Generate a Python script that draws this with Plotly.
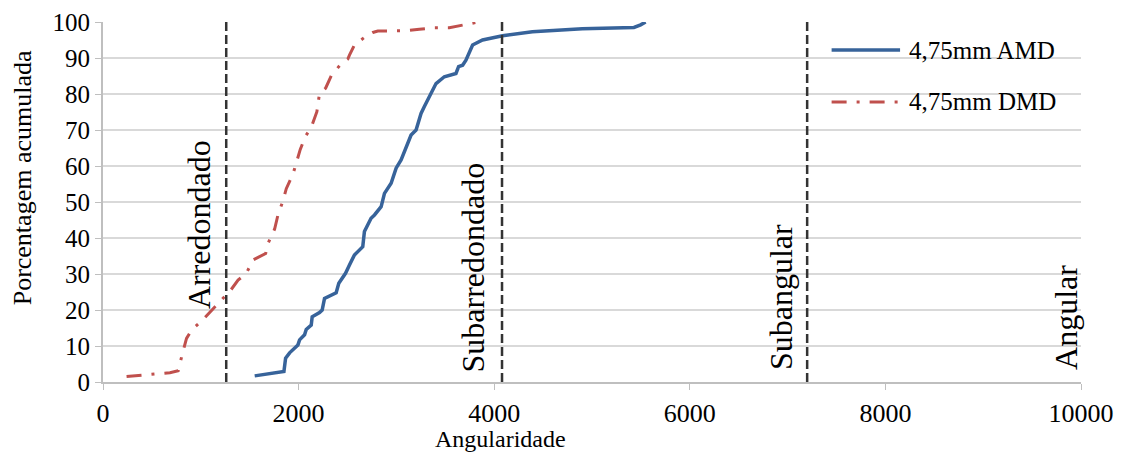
import plotly.graph_objects as go

# Cumulative distribution of gradient angularity, 4,75 mm fraction
amd_angularity = [1551, 1850, 1867, 1908, 1993, 2010, 2061, 2078, 2129, 2139, 2214, 2241,
                  2265, 2384, 2411, 2480, 2520, 2571, 2656, 2673, 2741, 2776, 2844, 2878,
                  2946, 2997, 3048, 3099, 3150, 3201, 3252, 3286, 3337, 3354, 3405, 3490,
                  3609, 3636, 3677, 3711, 3752, 3779, 3881, 4085, 4391, 4901, 5429, 5497, 5548]
amd_percent = [1.7, 2.9, 6.6, 8.1, 10.3, 11.7, 13.1, 14.6, 15.8, 18.1, 19.3, 20.0,
               23.2, 24.8, 27.4, 30.2, 32.5, 35.3, 37.6, 41.8, 45.5, 46.4, 48.7, 52.4,
               55.2, 59.4, 61.7, 65.4, 68.6, 70.0, 74.6, 76.5, 79.3, 80.2, 82.9, 84.8,
               85.7, 87.6, 88.0, 89.4, 91.8, 93.6, 95.0, 96.2, 97.3, 98.1, 98.5, 99.2, 100.0]

dmd_angularity = [241, 378, 531, 684, 769, 779, 813, 854, 905, 1017, 1109, 1194, 1303,
                  1381, 1466, 1534, 1663, 1687, 1755, 1789, 1840, 1874, 1942, 1976, 2017,
                  2071, 2129, 2187, 2207, 2214, 2276, 2334, 2426, 2503, 2520, 2571, 2691,
                  2759, 2810, 2956, 3099, 3235, 3388, 3541, 3677, 3840]
dmd_percent = [1.5, 1.8, 2.2, 2.6, 3.1, 4.3, 8.0, 12.1, 14.4, 17.2, 20.0, 22.3, 25.4,
               28.3, 30.2, 33.9, 35.7, 38.5, 42.5, 46.4, 50.3, 53.7, 57.7, 60.7, 64.6,
               68.3, 70.7, 75.1, 79.3, 80.2, 81.6, 85.1, 88.1, 89.7, 90.8, 93.6, 96.1,
               97.1, 97.5, 97.6, 97.6, 98.0, 98.4, 98.4, 99.2, 100.0]

# Class boundaries and class names
class_limits = [1260, 4080, 7200]
class_names = ["Arredondado", "Subarredondado", "Subangular", "Angular"]
class_label_x = [982, 3783, 6933, 9847]
class_label_y = [43.6, 31.8, 23.6, 17.8]

series_names = ["4,75mm AMD", "4,75mm DMD"]
x_ticks = [0, 2000, 4000, 6000, 8000, 10000]
y_ticks = list(range(0, 101, 10))

blue = "#37639A"
red = "#C0504D"
serif = "Liberation Serif, Times New Roman, serif"

fig = go.Figure()
fig.add_trace(go.Scatter(x=amd_angularity, y=amd_percent, mode="lines",
                         line=dict(color=blue, width=3.5), name=series_names[0],
                         showlegend=False))
fig.add_trace(go.Scatter(x=dmd_angularity, y=dmd_percent, mode="lines",
                         line=dict(color=red, width=3, dash="15px,10px,3px,10px"),
                         name=series_names[1], showlegend=False))

for xv in class_limits:
    fig.add_trace(go.Scatter(x=[xv, xv], y=[0, 100], mode="lines",
                             line=dict(color="#333333", width=2.5, dash="9px,4px"),
                             showlegend=False, hoverinfo="skip"))

for name, xv, yv in zip(class_names, class_label_x, class_label_y):
    fig.add_annotation(x=xv, y=yv, text=name, textangle=-90, showarrow=False,
                       xanchor="center", yanchor="middle",
                       font=dict(family=serif, size=32, color="black"))

# Legend drawn with longer line samples
legend_rows = [(0.922, dict(color=blue, width=3.5)),
               (0.778, dict(color=red, width=3, dash="15px,10px,3px,10px"))]
for (yp, ln), name in zip(legend_rows, series_names):
    fig.add_shape(type="line", xref="paper", yref="paper", x0=0.745, x1=0.815,
                  y0=yp, y1=yp, line=ln)
    fig.add_annotation(xref="paper", yref="paper", x=0.822, y=yp, text=name,
                       showarrow=False, xanchor="left", yanchor="middle",
                       font=dict(family=serif, size=25, color="black"))

# Axis titles
fig.add_annotation(xref="paper", yref="paper", x=0.406, y=-0.2, text="Angularidade",
                   showarrow=False, xanchor="center", yanchor="bottom",
                   font=dict(family=serif, size=24, color="black"))
fig.add_annotation(xref="paper", yref="paper", x=-0.082, y=0.568,
                   text="Porcentagem acumulada", textangle=-90, showarrow=False,
                   xanchor="center", yanchor="middle",
                   font=dict(family=serif, size=26, color="black"))

fig.update_layout(
    width=1122, height=454,
    margin=dict(l=103, r=41, t=22, b=72),
    plot_bgcolor="white", paper_bgcolor="white",
    font=dict(family=serif, size=24, color="black"),
)
fig.update_xaxes(range=[0, 10000], tickvals=x_ticks, ticktext=[str(v) for v in x_ticks],
                 showgrid=False, zeroline=False, showline=True, linecolor="#BFBFBF",
                 linewidth=2, ticks="outside", ticklen=6, tickcolor="#BFBFBF",
                 tickfont=dict(family=serif, size=26), ticklabelstandoff=1,
                 automargin=False)
fig.update_yaxes(range=[0, 100], tickvals=y_ticks,
                 showgrid=True, gridcolor="#D9D9D9", gridwidth=2, zeroline=False,
                 showline=True, linecolor="#BFBFBF", linewidth=2,
                 ticks="outside", ticklen=6, tickcolor="#BFBFBF",
                 tickfont=dict(family=serif, size=25), automargin=False)

fig.write_html("out.html")
